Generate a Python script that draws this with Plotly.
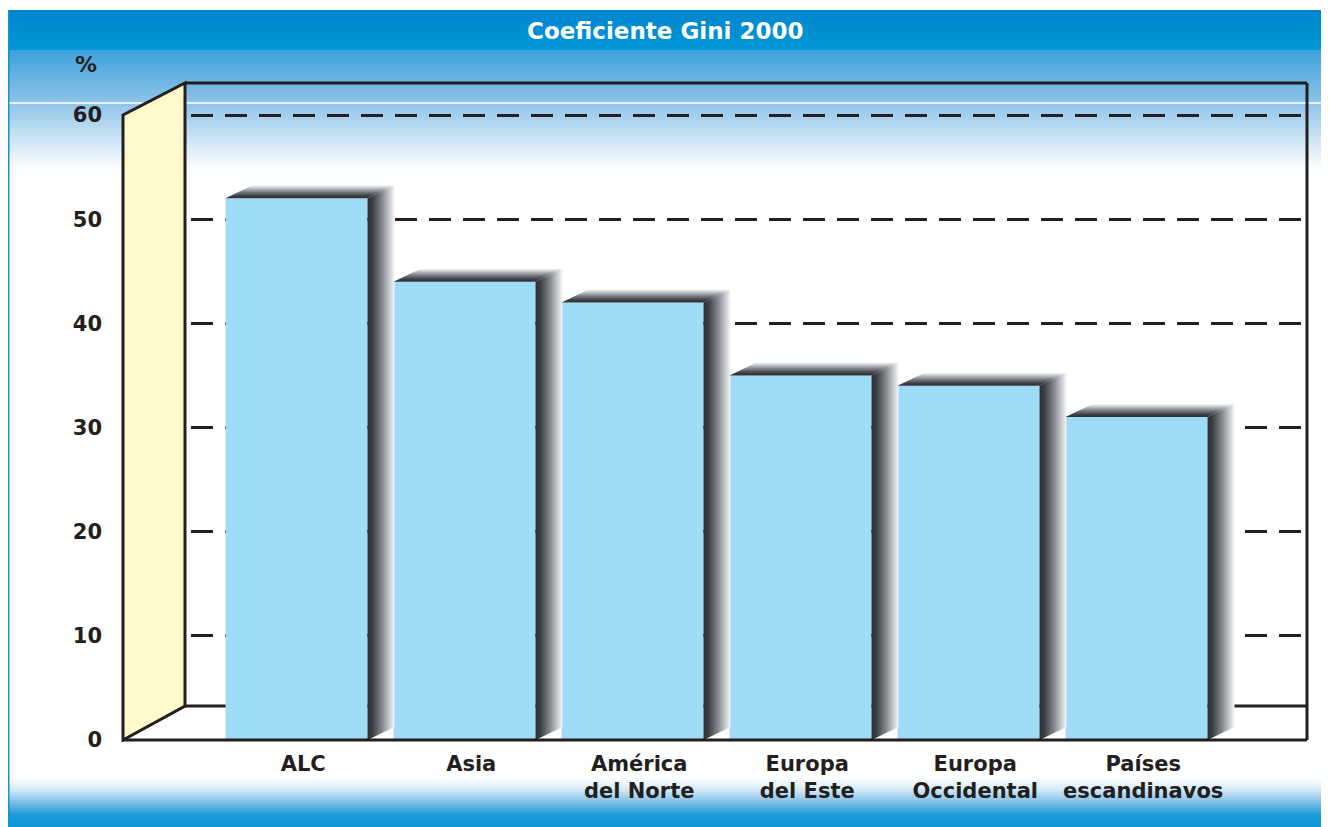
import plotly.graph_objects as go

# ---------------- data ----------------
categories = ["ALC", "Asia", "América<br>del Norte", "Europa<br>del Este",
              "Europa<br>Occidental", "Países<br>escandinavos"]
gini = [52, 44, 42, 35, 34, 31]
y_ticks = [0, 10, 20, 30, 40, 50, 60]
title_text = "Coeficiente Gini 2000"
unit_text = "%"

# ---------------- geometry / style ----------------
W, H = 1329, 827
OFF = 8                     # page body margin: figure is drawn 8px right/down
ML = 123 - OFF
MT = 83 - OFF
MR = W - (1307 - OFF)
MB = H - (740 - OFF)
PW = W - ML - MR
PH = H - MT - MB
Y_PX = 625 / 60.0          # pixels per y unit
X_PX = 168.0               # pixels per category step
X0 = 296.5 - 123           # first category centre, px from plot left
x_range = [-X0 / X_PX, (PW - X0) / X_PX]
y_range = [0, PH / Y_PX]
BAR_W = 142 / X_PX
DX = 27 / X_PX
DY = 13 / Y_PX
INK = "#231f20"
FONT = "DejaVu Sans"


def pxx(px):
    """reference-image x pixel -> paper coordinate"""
    return (px - OFF - ML) / PW


def pxy(py):
    """reference-image y pixel -> paper coordinate"""
    return (H - MB - (py - OFF)) / PH


def hex2rgb(h):
    h = h.lstrip("#")
    return tuple(int(h[i:i + 2], 16) for i in (0, 2, 4))


def interp(stops, y):
    for (y1, c1), (y2, c2) in zip(stops[:-1], stops[1:]):
        if y1 <= y <= y2:
            t = 0 if y2 == y1 else (y - y1) / (y2 - y1)
            a, b = hex2rgb(c1), hex2rgb(c2)
            return "rgb(%d,%d,%d)" % tuple(round(a[k] + (b[k] - a[k]) * t) for k in range(3))
    return stops[-1][1]


shapes = []
# background gradient bands
top_stops = [(10, "#0085ce"), (50, "#0097d7"), (51, "#3ea2dc"), (103, "#8ec4e8"),
             (135, "#c6e1f3"), (170, "#ffffff")]
bot_stops = [(778, "#ffffff"), (790, "#d2e8f6"), (803, "#78bbe6"), (815, "#1e9bd9"),
             (835, "#0094d5")]
for stops in (top_stops, bot_stops):
    y = stops[0][0]
    while y < stops[-1][0]:
        y2 = min(y + 2, stops[-1][0])
        shapes.append(dict(type="rect", xref="paper", yref="paper", layer="below",
                           x0=pxx(7), x1=pxx(1337), y0=pxy(y), y1=pxy(y2 + 0.5),
                           line=dict(width=0), fillcolor=interp(stops, (y + y2) / 2)))
        y = y2
# side borders
shapes.append(dict(type="rect", xref="paper", yref="paper", layer="below",
                   x0=pxx(7), x1=pxx(9.5), y0=pxy(835), y1=pxy(10),
                   line=dict(width=0), fillcolor="#1593d4"))
shapes.append(dict(type="rect", xref="paper", yref="paper", layer="below",
                   x0=pxx(1324), x1=pxx(1337), y0=pxy(835), y1=pxy(10),
                   line=dict(width=0), fillcolor="#0a90d2"))
# thin white line
shapes.append(dict(type="line", xref="paper", yref="paper", layer="below",
                   x0=pxx(9.5), x1=pxx(1324), y0=pxy(103), y1=pxy(103),
                   line=dict(color="white", width=1.5)))

# 3D frame
dxw = pxx(185)
dyw = pxy(706)
y60 = pxy(740 - 60 * Y_PX)
shapes.append(dict(type="line", xref="paper", yref="paper", layer="below",
                   x0=dxw, x1=1, y0=dyw, y1=dyw, line=dict(color=INK, width=3)))
shapes.append(dict(type="path", xref="paper", yref="paper", layer="above",
                   path=f"M 0 {y60} L {dxw} 1 L {dxw} {dyw} L 0 0 Z",
                   fillcolor="#fff9cc", line=dict(color=INK, width=3)))
shapes.append(dict(type="line", xref="paper", yref="paper", layer="above",
                   x0=dxw, x1=1, y0=1, y1=1, line=dict(color=INK, width=3)))
shapes.append(dict(type="line", xref="paper", yref="paper", layer="above",
                   x0=1, x1=1, y0=1, y1=0, line=dict(color=INK, width=3)))
shapes.append(dict(type="line", xref="paper", yref="paper", layer="above",
                   x0=0, x1=1, y0=0, y1=0, line=dict(color=INK, width=3)))

fig = go.Figure()
xs = list(range(len(categories)))
fig.add_trace(go.Bar(x=xs, y=gini, width=BAR_W, marker=dict(color="#9ddbf6", line=dict(width=0)),
                     hoverinfo="skip", showlegend=False))

shadow_scale = [[0, "#2a2d31"], [0.2, "#3d4146"], [0.5, "#7b8086"],
                [0.8, "#c6c9cc"], [1, "#f6f6f7"]]
for i, v in zip(xs, gini):
    xl, xr = i - BAR_W / 2, i + BAR_W / 2
    fig.add_trace(go.Scatter(
        x=[xl, xl + DX, xr + DX, xr, xl], y=[v, v + DY, v + DY, v, v],
        mode="lines", fill="toself", line=dict(width=0),
        fillgradient=dict(type="vertical", colorscale=shadow_scale),
        hoverinfo="skip", showlegend=False))
    fig.add_trace(go.Scatter(
        x=[xr, xr + DX, xr + DX, xr, xr], y=[v, v + DY, DY, 0, v],
        mode="lines", fill="toself", line=dict(width=0),
        fillgradient=dict(type="horizontal", colorscale=shadow_scale),
        hoverinfo="skip", showlegend=False))

fig.update_layout(
    width=W, height=H,
    margin=dict(l=ML, r=MR, t=MT, b=MB, pad=0),
    paper_bgcolor="white", plot_bgcolor="rgba(0,0,0,0)",
    showlegend=False, hovermode=False,
    shapes=shapes,
    xaxis=dict(range=x_range, tickvals=[i + 0.04 for i in xs], ticktext=categories,
               showgrid=False, zeroline=False, showline=False, ticks="",
               ticklabelstandoff=9,
               tickfont=dict(family=FONT, size=21, color=INK, weight="bold")),
    yaxis=dict(range=y_range, tickvals=y_ticks, ticktext=[str(t) for t in y_ticks],
               showgrid=True, gridcolor=INK, gridwidth=3, griddash="22px,12px",
               zeroline=False, showline=False, ticks="", ticklabelstandoff=20,
               tickfont=dict(family=FONT, size=21, color=INK, weight="bold")),
    annotations=[
        dict(text=title_text, xref="paper", yref="paper", x=pxx(665), y=pxy(31),
             showarrow=False, xanchor="center", yanchor="middle",
             font=dict(family=FONT, size=23, color="white", weight="bold")),
        dict(text=unit_text, xref="paper", yref="paper", x=pxx(86), y=pxy(65),
             showarrow=False, xanchor="center", yanchor="middle",
             font=dict(family=FONT, size=22, color=INK, weight="bold")),
    ],
)

fig.write_html("out.html")
